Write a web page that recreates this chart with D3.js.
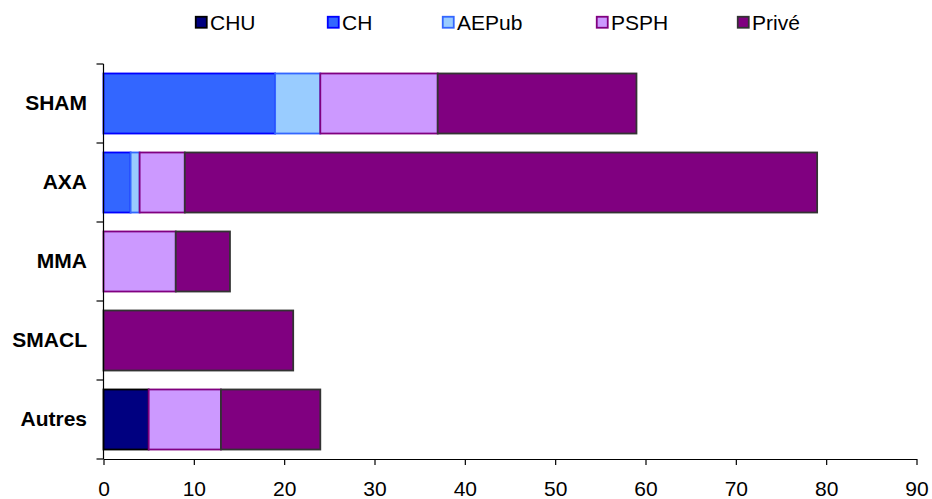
<!DOCTYPE html>
<html><head><meta charset="utf-8">
<script src="https://cdn.jsdelivr.net/npm/d3@7"></script>
<style>body{margin:0;background:#fff}svg{display:block}</style>
</head><body>
<svg id="c" width="932" height="499"></svg>
<script>
const categories = ["SHAM","AXA","MMA","SMACL","Autres"];
const seriesNames = ["CHU","CH","AEPub","PSPH","Privé"];
const CHU   = [0, 0, 0, 0, 5];
const CH    = [19, 3, 0, 0, 0];
const AEPub = [5, 1, 0, 0, 0];
const PSPH  = [13, 5, 8, 0, 8];
const Prive = [22, 70, 6, 21, 11];
const xTicks = [0,10,20,30,40,50,60,70,80,90];
const fills   = ["#000080","#3366FF","#99CCFF","#CC99FF","#800080"];
const strokes = ["#000000","#0000FF","#3366FF","#800080","#333333"];

const values = [CHU, CH, AEPub, PSPH, Prive];
const rows = categories.map((c,i)=>{const o={cat:c}; seriesNames.forEach((s,j)=>o[s]=values[j][i]); return o;});
const stack = d3.stack().keys(seriesNames)(rows);

const svg = d3.select("#c");
const m = {l:103.5, r:916.5, t:64, b:459};
const x = d3.scaleLinear().domain([0,90]).range([m.l, m.r]);
const y = d3.scaleBand().domain(categories).range([m.t, m.b]).paddingInner(0.24).paddingOuter(0.12);
const yb = d3.scaleBand().domain(categories).range([m.t, m.b]);
const font = "'Liberation Sans', Arial, sans-serif";

stack.forEach((layer, j)=>{
  svg.append("g").selectAll("rect").data(layer.filter(d=>d[1]-d[0]>0)).join("rect")
    .attr("x", d=>x(d[0])).attr("width", d=>x(d[1])-x(d[0]))
    .attr("y", d=>y(d.data.cat)).attr("height", y.bandwidth())
    .attr("fill", fills[j]).attr("stroke", strokes[j]).attr("stroke-width", 1.8);
});

// x axis
const xa = svg.append("g").attr("transform",`translate(0,${m.b})`)
  .call(d3.axisBottom(x).tickValues(xTicks).tickSize(6).tickPadding(16).tickSizeOuter(0));
xa.select(".domain").attr("stroke","#000").attr("stroke-width",1.2);
xa.selectAll(".tick line").attr("stroke","#000").attr("stroke-width",1.2);
xa.selectAll("text").attr("font-family",font).attr("font-size",21).attr("fill","#000");

// y axis
svg.append("line").attr("x1",m.l).attr("x2",m.l).attr("y1",m.t).attr("y2",m.b).attr("stroke","#000").attr("stroke-width",1.2);
const yTickPos = categories.map(c=>yb(c)).concat([m.b]);
svg.append("g").selectAll("line").data(yTickPos).join("line")
  .attr("x1",m.l-7).attr("x2",m.l).attr("y1",d=>d).attr("y2",d=>d).attr("stroke","#000").attr("stroke-width",1.2);
svg.append("g").selectAll("text").data(categories).join("text")
  .attr("x",87).attr("y",d=>yb(d)+yb.bandwidth()/2).attr("dy","0.33em")
  .attr("text-anchor","end").attr("font-family",font).attr("font-weight","bold").attr("font-size",21)
  .text(d=>d);

// legend
const legX = [195, 327, 442, 596, 737];
const lg = svg.append("g").selectAll("g").data(seriesNames).join("g")
  .attr("transform",(d,i)=>`translate(${legX[i]},16)`);
lg.append("rect").attr("x",0.75).attr("y",0.75).attr("width",11).attr("height",11)
  .attr("fill",(d,i)=>fills[i]).attr("stroke",(d,i)=>strokes[i]).attr("stroke-width",1.8);
lg.append("text").attr("x",15).attr("y",6.5).attr("dy","0.35em")
  .attr("font-family",font).attr("font-size",21).text(d=>d);
</script>
</body></html>
